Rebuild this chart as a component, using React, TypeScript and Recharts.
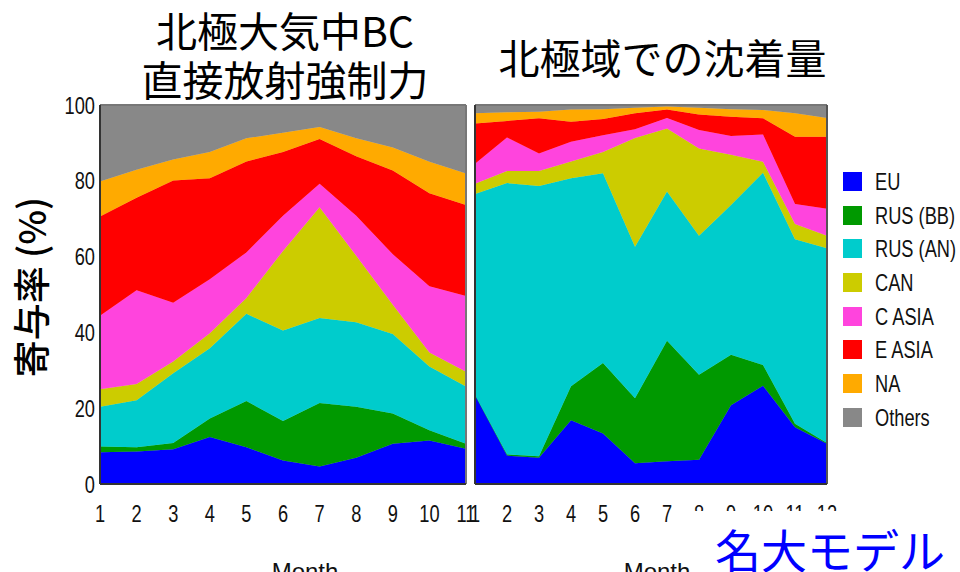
import {
  AreaChart,
  Area,
  XAxis,
  YAxis,
  ReferenceLine,
} from 'recharts'

// Monthly share (%) of each source region, stacked bottom to top
const monthsAtmos = [1, 2, 3, 4, 5, 6, 7, 8, 9, 10, 11]
const atmosEU = [8.4, 8.6, 9.2, 12.4, 9.7, 6.2, 4.6, 6.9, 10.6, 11.5, 9.3]
const atmosRusBB = [1.5, 1.1, 1.6, 4.9, 12.2, 10.4, 16.8, 13.5, 8.0, 2.7, 1.3]
const atmosRusAN = [10.5, 12.4, 18.4, 18.5, 23.0, 23.9, 22.4, 22.3, 21.0, 16.8, 15.1]
const atmosCAN = [4.6, 4.3, 3.1, 4.0, 4.2, 21.0, 29.2, 17.5, 7.7, 3.7, 3.9]
const atmosCAsia = [19.4, 24.7, 15.5, 14.2, 12.0, 9.3, 6.2, 10.6, 13.3, 17.5, 20.0]
const atmosEAsia = [26.2, 24.4, 32.3, 26.7, 24.0, 16.8, 11.8, 15.7, 22.1, 24.5, 24.0]
const atmosNA = [9.2, 7.4, 5.5, 6.9, 6.1, 5.1, 3.2, 4.7, 6.1, 8.3, 8.3]
const atmosOthers = [20.2, 17.1, 14.4, 12.4, 8.8, 7.3, 5.8, 8.8, 11.2, 15.0, 18.1]

const monthsDep = [1, 2, 3, 4, 5, 6, 7, 8, 9, 10, 11, 12]
const depEU = [23.5, 7.5, 6.9, 16.8, 13.3, 5.5, 6.0, 6.4, 20.8, 25.9, 15.0, 10.6]
const depRusBB = [0, 0.3, 0.4, 9.0, 18.6, 17.1, 31.8, 22.4, 13.3, 5.5, 0.9, 0.2]
const depRusAN = [53.0, 71.6, 71.3, 54.9, 50.1, 40.0, 39.4, 36.7, 39.5, 50.7, 48.7, 51.4]
const depCAN = [2.7, 3.2, 4.0, 4.4, 5.6, 28.7, 16.6, 23.0, 13.3, 2.9, 4.0, 3.3]
const depCAsia = [5.3, 8.8, 4.6, 5.2, 4.4, 2.3, 2.8, 4.9, 4.9, 7.2, 5.3, 7.1]
const depEAsia = [10.6, 4.4, 9.3, 5.3, 4.3, 4.2, 2.2, 4.1, 5.1, 4.3, 17.7, 19.0]
const depNA = [2.7, 2.3, 1.7, 3.2, 2.6, 1.5, 0.8, 1.8, 2.0, 2.2, 6.2, 5.0]
const depOthers = [2.2, 1.9, 1.8, 1.2, 1.1, 0.7, 0.4, 0.7, 1.1, 1.3, 2.2, 3.4]

const percentTicks = [0, 20, 40, 60, 80, 100]

const regions = [
  { key: 'EU', label: 'EU', color: '#0000ff' },
  { key: 'RUSBB', label: 'RUS (BB)', color: '#009900' },
  { key: 'RUSAN', label: 'RUS (AN)', color: '#00cccc' },
  { key: 'CAN', label: 'CAN', color: '#cccc00' },
  { key: 'CASIA', label: 'C ASIA', color: '#ff44dd' },
  { key: 'EASIA', label: 'E ASIA', color: '#ff0000' },
  { key: 'NA', label: 'NA', color: '#ffaa00' },
  { key: 'Others', label: 'Others', color: '#888888' },
]

function buildRows(months: number[], cols: Record<string, number[]>) {
  return months.map((month, i) => {
    const row: Record<string, number> = { month }
    for (const k of Object.keys(cols)) row[k] = cols[k][i]
    return row
  })
}

const atmosData = buildRows(monthsAtmos, {
  EU: atmosEU,
  RUSBB: atmosRusBB,
  RUSAN: atmosRusAN,
  CAN: atmosCAN,
  CASIA: atmosCAsia,
  EASIA: atmosEAsia,
  NA: atmosNA,
  Others: atmosOthers,
})

const depData = buildRows(monthsDep, {
  EU: depEU,
  RUSBB: depRusBB,
  RUSAN: depRusAN,
  CAN: depCAN,
  CASIA: depCAsia,
  EASIA: depEAsia,
  NA: depNA,
  Others: depOthers,
})

const NARROW = '"Liberation Sans", Arial, sans-serif'
const CJK = '"Noto Sans CJK JP", "Noto Sans CJK SC", sans-serif'

// squeezed tick text, the labels are set in a condensed face
function NarrowTick(props: any) {
  const { x, y, payload, textAnchor, verticalAnchor } = props
  const dy = verticalAnchor === 'start' ? '0.71em' : '0.355em'
  return (
    <g transform={`translate(${x},${y})`}>
      <text
        transform="scale(0.76,1)"
        textAnchor={textAnchor}
        dy={dy}
        fontSize={24}
        fontFamily={NARROW}
        fill="#111"
      >
        {payload.value}
      </text>
    </g>
  )
}

function regionAreas() {
  return regions.map((r) => (
    <Area
      key={r.key}
      type="linear"
      dataKey={r.key}
      stackId="s"
      fill={r.color}
      fillOpacity={1}
      stroke={r.color}
      strokeWidth={0.6}
      isAnimationActive={false}
    />
  ))
}

export default function App() {
  return (
    <div
      style={{
        position: 'absolute',
        left: 0,
        top: 0,
        width: 960,
        height: 572,
        overflow: 'hidden',
        background: '#fff',
        fontFamily: NARROW,
      }}
    >
      {/* titles */}
      <div
        style={{
          position: 'absolute',
          left: 130,
          top: 5,
          width: 310,
          textAlign: 'center',
          fontFamily: CJK,
          fontSize: 41,
          lineHeight: '49px',
          color: '#000',
        }}
      >
        北極大気中BC
        <br />
        直接放射強制力
      </div>
      <div
        style={{
          position: 'absolute',
          left: 470,
          top: 32,
          width: 385,
          textAlign: 'center',
          fontFamily: CJK,
          fontSize: 41,
          lineHeight: '49px',
          color: '#000',
        }}
      >
        北極域での沈着量
      </div>

      {/* y axis title */}
      <div
        style={{
          position: 'absolute',
          left: 30,
          top: 287,
          transform: 'translate(-50%, -50%) rotate(-90deg)',
          whiteSpace: 'nowrap',
          fontFamily: CJK,
          fontSize: 37,
          fontWeight: 500,
          color: '#000',
        }}
      >
        寄与率 (%)
      </div>

      <div style={{ position: 'absolute', left: 0, top: 0 }}>
        <AreaChart
          width={480}
          height={572}
          data={atmosData}
          margin={{ top: 105, right: 14, left: 0, bottom: 48 }}
        >
          <XAxis
            dataKey="month"
            type="number"
            domain={[1, 11]}
            ticks={monthsAtmos}
            interval={0}
            height={40}
            tickSize={0}
            tickMargin={21}
            tickLine={false}
            axisLine={{ stroke: '#333', strokeWidth: 2 }}
            tick={<NarrowTick />}
            label={{ value: 'Month', position: 'bottom', offset: 39, dx: 22, fontSize: 24, fill: '#111' }}
          />
          <YAxis
            type="number"
            domain={[0, 100]}
            ticks={percentTicks}
            width={100}
            tickSize={0}
            tickMargin={5}
            tickLine={false}
            axisLine={{ stroke: '#333', strokeWidth: 2 }}
            tick={<NarrowTick />}
          />
          {regionAreas()}
          <ReferenceLine y={100} stroke="#777" strokeWidth={2} />
          <ReferenceLine x={11} stroke="#777" strokeWidth={2} />
        </AreaChart>
      </div>

      <div style={{ position: 'absolute', left: 470, top: 0 }}>
        <AreaChart
          width={370}
          height={572}
          data={depData}
          margin={{ top: 105, right: 13, left: 5, bottom: 48 }}
        >
          <XAxis
            dataKey="month"
            type="number"
            domain={[1, 12]}
            ticks={monthsDep}
            interval={0}
            height={40}
            tickSize={0}
            tickMargin={21}
            tickLine={false}
            axisLine={{ stroke: '#333', strokeWidth: 2 }}
            tick={<NarrowTick />}
            label={{ value: 'Month', position: 'bottom', offset: 39, dx: 6, fontSize: 24, fill: '#111' }}
          />
          <YAxis type="number" domain={[0, 100]} ticks={percentTicks} hide />
          {regionAreas()}
          <ReferenceLine y={100} stroke="#777" strokeWidth={2} />
          <ReferenceLine x={1} stroke="#333" strokeWidth={2} />
          <ReferenceLine x={12} stroke="#555" strokeWidth={2} />
        </AreaChart>
      </div>

      {/* legend */}
      <div style={{ position: 'absolute', left: 843, top: 171 }}>
        {regions.map((r) => (
          <div
            key={r.key}
            style={{ height: 33.7, display: 'flex', alignItems: 'flex-start' }}
          >
            <div style={{ width: 19, height: 19, background: r.color, marginTop: 1 }} />
            <span
              style={{
                marginLeft: 13,
                fontSize: 24,
                lineHeight: '21px',
                color: '#111',
                whiteSpace: 'nowrap',
                display: 'inline-block',
                transform: 'scaleX(0.76)',
                transformOrigin: 'left center',
              }}
            >
              {r.label}
            </span>
          </div>
        ))}
      </div>

      {/* model credit box */}
      <div
        style={{
          position: 'absolute',
          left: 693,
          top: 511,
          width: 267,
          height: 61,
          background: '#fff',
        }}
      >
        <div
          style={{
            position: 'absolute',
            left: 22,
            top: 12,
            fontFamily: CJK,
            fontSize: 46,
            lineHeight: '50px',
            color: '#0000ff',
            whiteSpace: 'nowrap',
          }}
        >
          名大モデル
        </div>
      </div>
    </div>
  )
}
